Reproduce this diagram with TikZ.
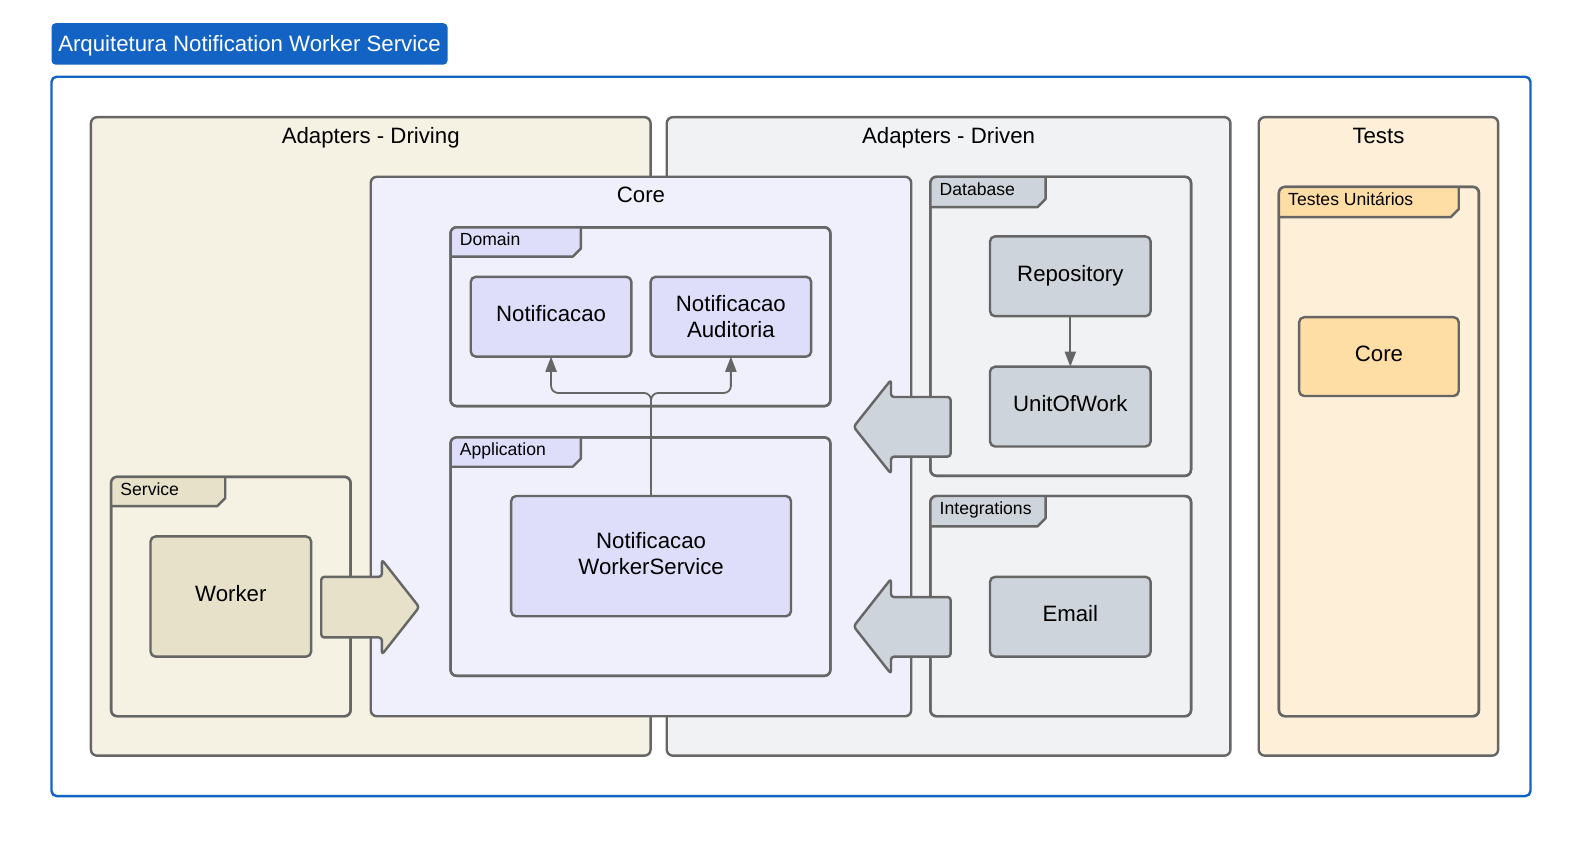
\documentclass[tikz,border=0pt]{standalone}
\usepackage{fontspec}
\setmainfont{Liberation Sans}
\usetikzlibrary{calc,arrows.meta}
\definecolor{strokec}{HTML}{666666}
\definecolor{titleblue}{HTML}{1263C4}
\definecolor{drivingbg}{HTML}{F5F2E3}
\definecolor{drivenbg}{HTML}{F1F2F4}
\definecolor{testsbg}{HTML}{FEF0D8}
\definecolor{corebg}{HTML}{F0F0FC}
\definecolor{lav}{HTML}{DEDEFA}
\definecolor{grayb}{HTML}{CED4DB}
\definecolor{khaki}{HTML}{E6E1C8}
\definecolor{orangeb}{HTML}{FFDEA5}
\newcommand\mainfs{\fontsize{22pt}{26pt}\selectfont}
\newcommand\tabfs{\fontsize{17.4pt}{20pt}\selectfont}
\tikzset{
  lw/.style={draw=strokec, line width=2.4pt, line join=round},
  cont/.style={lw, rounded corners=6pt, inner sep=0pt, outer sep=0pt, anchor=north west},
  box/.style={lw, rounded corners=5pt, inner sep=0pt, outer sep=0pt, font=\mainfs, align=center},
  onebox/.style={box, text height=16.5pt, text depth=6.8pt},
  ttl/.style={font=\mainfs, inner sep=0pt, anchor=base},
  conn/.style={draw=strokec, line width=1.8pt, -{Triangle[length=15pt,width=11pt]}},
  blockarrow/.style={lw, rounded corners=3pt},
}
\newcommand\container[6]{% name, x, y, w, h, fill
  \node[cont, fill=#6, minimum width=#4pt, minimum height=#5pt] (#1) at (#2,#3) {};}
\newcommand\pkgtab[5]{% name, tab width, tab height, fill, label
  \begin{scope}
    \clip[rounded corners=6pt] (#1.north west) rectangle (#1.south east);
    \fill[#4] (#1.north west) -- ++(#2,0) -- ++(0,#3-8) -- ++(-8,8) -- ++(8-#2,0) -- cycle;
  \end{scope}
  \draw[lw] ($(#1.north west)+(#2,0)$) -- ++(0,#3-8) -- ++(-8,8) -- ($(#1.north west)+(0,#3)$);
  \draw[lw, rounded corners=6pt] (#1.north west) rectangle (#1.south east);
  \node[anchor=base west, font=\tabfs, inner sep=0pt] (#1lbl) at ($(#1.north west)+(9,18.3)$) {#5};}
\begin{document}
\begin{tikzpicture}[x=1pt,y=-1pt]
\useasboundingbox (0,0) rectangle (1568,848.3);
% title and frame
\node[fill=titleblue, rounded corners=4pt, minimum width=392pt, minimum height=41pt,
      inner sep=0pt, text=white, font=\mainfs, text height=16.5pt, text depth=1.7pt] (title) at (247,43.5) {Arquitetura Notification Worker Service};
\node[draw=titleblue, line width=2.4pt, rounded corners=5pt, minimum width=1464pt, minimum height=712pt,
      anchor=north west, inner sep=0pt, outer sep=0pt] (frame) at (51,76) {};
% top containers
\container{driving}{90}{116}{554}{632}{drivingbg}
\container{driven}{660}{116}{558}{632}{drivenbg}
\container{tests}{1246}{116}{237}{632}{testsbg}
\node[ttl] (drivingt) at (367,141.8) {Adapters - Driving};
\node[ttl] (drivent) at (939,141.8) {Adapters - Driven};
\node[ttl] (testst) at (1364.5,141.8) {Tests};
% core
\container{core}{367}{175}{535}{534}{corebg}
\node[ttl] (coret) at (634.5,200.8) {Core};
% packages
\container{service}{110}{472}{237}{237}{drivingbg}
\pkgtab{service}{113}{29}{khaki}{Service}
\container{domain}{446}{225}{376}{177}{corebg}
\pkgtab{domain}{129}{29}{lav}{Domain}
\container{application}{446}{433}{376}{236}{corebg}
\pkgtab{application}{129}{29}{lav}{Application}
\container{database}{921}{175}{258}{296}{drivenbg}
\pkgtab{database}{114}{30}{grayb}{Database}
\container{integrations}{921}{491}{258}{218}{drivenbg}
\pkgtab{integrations}{114}{30}{grayb}{Integrations}
\container{unit}{1266}{185}{198}{524}{testsbg}
\pkgtab{unit}{178}{30}{orangeb}{Testes Unitários}
% boxes
\node[onebox, fill=lav, minimum width=159pt, minimum height=79pt] (notif) at (545.5,313.5) {Notificacao};
\node[box, fill=lav, minimum width=159pt, minimum height=79pt] (notifaud) at (723.5,313.5) {Notificacao\\Auditoria};
\node[box, fill=lav, minimum width=277pt, minimum height=119pt, text depth=6pt] (nws) at (644.5,550.5) {Notificacao\\WorkerService};
\node[onebox, fill=grayb, minimum width=159pt, minimum height=79pt] (repo) at (1059.5,273.5) {Repository};
\node[onebox, fill=grayb, minimum width=159pt, minimum height=79pt] (uow) at (1059.5,402.5) {UnitOfWork};
\node[onebox, fill=grayb, minimum width=159pt, minimum height=79pt] (email) at (1059.5,610.5) {Email};
\node[onebox, fill=khaki, minimum width=159pt, minimum height=119pt] (worker) at (228.5,590.5) {Worker};
\node[onebox, fill=orangeb, minimum width=158pt, minimum height=78pt] (testcore) at (1365,353) {Core};
% connectors
\draw[conn, rounded corners=7pt] (nws.north) -- ++(0,-102) -| (notif.south);
\draw[conn, rounded corners=7pt] (nws.north) -- ++(0,-102) -| (notifaud.south);
\draw[conn] (repo.south) -- (uow.north);
% block arrows
\draw[blockarrow, fill=khaki] (318,571) -- (378,571) -- (378,554) -- (415,601) -- (378,648) -- (378,631) -- (318,631) -- cycle;
\draw[blockarrow, fill=grayb] (941,393) -- (882,393) -- (882,376) -- (845,422.5) -- (882,469) -- (882,452) -- (941,452) -- cycle;
\draw[blockarrow, fill=grayb] (941,591) -- (882,591) -- (882,573) -- (845,620) -- (882,667) -- (882,650) -- (941,650) -- cycle;
\end{tikzpicture}
\end{document}
